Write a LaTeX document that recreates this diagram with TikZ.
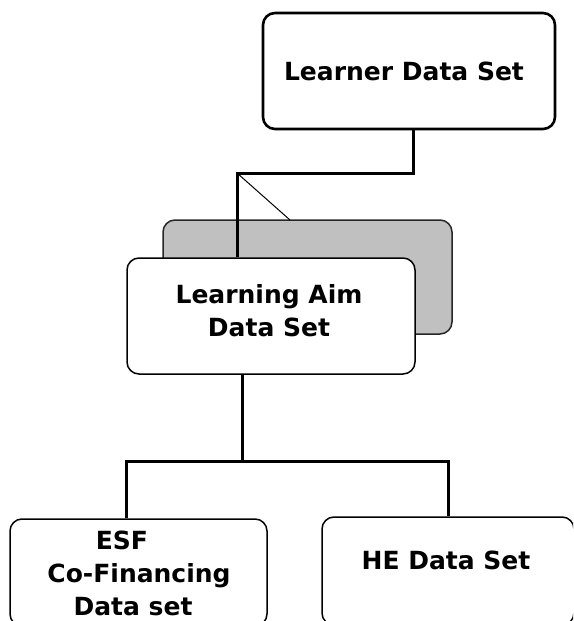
\documentclass[tikz,border=0pt]{standalone}
\usepackage{fontspec}
\setmainfont{DejaVu Sans}
\definecolor{shade}{HTML}{C0C0C0}
\begin{document}
\begin{tikzpicture}[x=1pt,y=-1pt,
  box/.style={draw=black, line width=1.5pt, rounded corners=12pt, fill=white, inner sep=0pt},
  boldbox/.style={box, line width=2.6pt},
  shadebox/.style={box, fill=shade, draw=black!85},
  lbl/.style={font=\bfseries\fontsize{25}{33}\selectfont, align=center, inner sep=0pt},
  conn/.style={line width=3pt},
  thin/.style={line width=1pt}]
\useasboundingbox (0,0) rectangle (573,621);
\clip (0,0) rectangle (573,621);
% boxes
\node[boldbox, minimum width=292pt, minimum height=116pt] (learner) at (409,71) {};
\node[lbl] (learnerT) at (404,71) {Learner Data Set};
\node[shadebox, minimum width=289pt, minimum height=114pt] (grey) at (307.5,277) {};
\node[box, minimum width=288pt, minimum height=116pt] (aim) at (271,316) {};
\node[lbl, anchor=base] (aimT) at (269,336) {Learning Aim\\Data Set};
\node[box, minimum width=257pt, minimum height=107pt] (esf) at (138.5,572.5) {};
\node[lbl, anchor=base] (esfT) at (139,615) {ESF\hspace*{34pt}\\Co-Financing\\Data set\hspace*{12pt}};
\node[box, minimum width=252pt, minimum height=108pt] (he) at (448,571) {};
\node[lbl] (heT) at (446,560) {HE Data Set};
% connectors
\coordinate (elbow) at (237,173);
\coordinate (bus) at (242,461);
\coordinate (bl) at (126,461);
\coordinate (br) at (448,461);
\draw[thin] (elbow) -- (290,220);
\draw[conn] (learner.south -| 413,0) |- (elbow) -- (elbow |- aim.north);
\draw[conn] (bus |- aim.south) -- (bus);
\draw[conn] (bl |- esf.north) -- (bl) -- (br) -- (br |- he.north);
\end{tikzpicture}
\end{document}
